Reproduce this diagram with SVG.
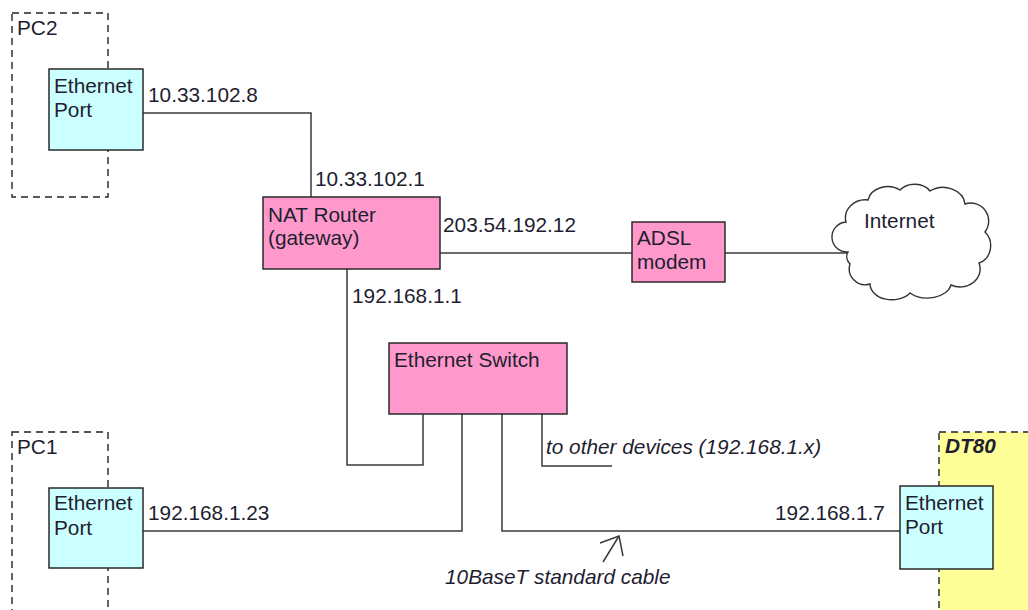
<svg xmlns="http://www.w3.org/2000/svg" width="1028" height="610" viewBox="0 0 1028 610">
<style>
text{font-family:"Liberation Sans",Arial,sans-serif;font-size:20.8px;fill:#1e1e30}
.it{font-style:italic}
.dash{fill:none;stroke:#222;stroke-width:1.4;stroke-dasharray:7,5}
.box{stroke:#2a2a2a;stroke-width:1.5}
.pink{fill:#FF99CC}
.cyan{fill:#CCFFFF}
.wire{fill:none;stroke:#3a3a3a;stroke-width:1.5}
</style>
<rect width="1028" height="610" fill="#fff"/>
<g id="pc2">
<rect class="dash" x="12" y="13" width="96" height="184"/>
<text x="17" y="35">PC2</text>
</g>
<g id="pc1">
<rect class="dash" x="12" y="432" width="96" height="200"/>
<text x="17" y="454">PC1</text>
</g>
<g id="dt80">
<rect class="dash" x="939" y="432" width="110" height="200" style="fill:#FFFF99"/>
<text x="945" y="453" style="font-weight:bold;font-style:italic">DT80</text>
</g>
<g id="connectors">
<polyline class="wire" points="143,113 311,113 311,197"/>
<polyline class="wire" points="440,253 632,253"/>
<polyline class="wire" points="725,253 848,253"/>
<polyline class="wire" points="347,269 347,465 423,465 423,414"/>
<polyline class="wire" points="462,414 462,531 143,531"/>
<polyline class="wire" points="502,414 502,531 900,531"/>
<polyline class="wire" points="542,414 542,466 612,466"/>
<polyline class="wire" points="603,562 619,536"/>
<polyline class="wire" points="600,543 619,536 623,556"/>
</g>
<g id="pc2-port">
<rect class="box cyan" x="49" y="69" width="94" height="81"/>
<text x="54" y="93">Ethernet</text>
<text x="54" y="117">Port</text>
</g>
<g id="pc1-port">
<rect class="box cyan" x="49" y="488" width="94" height="80"/>
<text x="54" y="510">Ethernet</text>
<text x="54" y="535">Port</text>
</g>
<g id="dt80-port">
<rect class="box cyan" x="900" y="486" width="93" height="83"/>
<text x="905" y="510">Ethernet</text>
<text x="905" y="534">Port</text>
</g>
<g id="router">
<rect class="box pink" x="263" y="197" width="177" height="72"/>
<text x="268" y="222">NAT Router</text>
<text x="268" y="245">(gateway)</text>
</g>
<g id="adsl">
<rect class="box pink" x="632" y="222" width="93" height="60"/>
<text x="637" y="245">ADSL</text>
<text x="637" y="269">modem</text>
</g>
<g id="switch">
<rect class="box pink" x="389" y="343" width="178" height="71"/>
<text x="394" y="367">Ethernet Switch</text>
</g>
<g id="internet">
<path d="M848,252 A14,14 0 0 1 846,222 A20,18 0 0 1 868,200 A20,16 0 0 1 900,190 A18,14 0 0 1 930,191 A22,18 0 0 1 965,204 A18,18 0 0 1 985,232 A16,18 0 0 1 979,263 A20,18 0 0 1 951,285 A24,16 0 0 1 910,293 A22,16 0 0 1 870,284 A16,16 0 0 1 850,264 A10,10 0 0 1 848,252 Z" fill="#fff" stroke="#333" stroke-width="1.4"/>
<text x="864" y="228">Internet</text>
</g>
<g id="labels">
<text x="148" y="102">10.33.102.8</text>
<text x="315" y="186">10.33.102.1</text>
<text x="443" y="232">203.54.192.12</text>
<text x="352" y="303">192.168.1.1</text>
<text x="148" y="520">192.168.1.23</text>
<text x="775" y="520">192.168.1.7</text>
<text class="it" x="546" y="454">to other devices (192.168.1.x)</text>
<text class="it" x="445" y="584">10BaseT standard cable</text>
</g>
</svg>
